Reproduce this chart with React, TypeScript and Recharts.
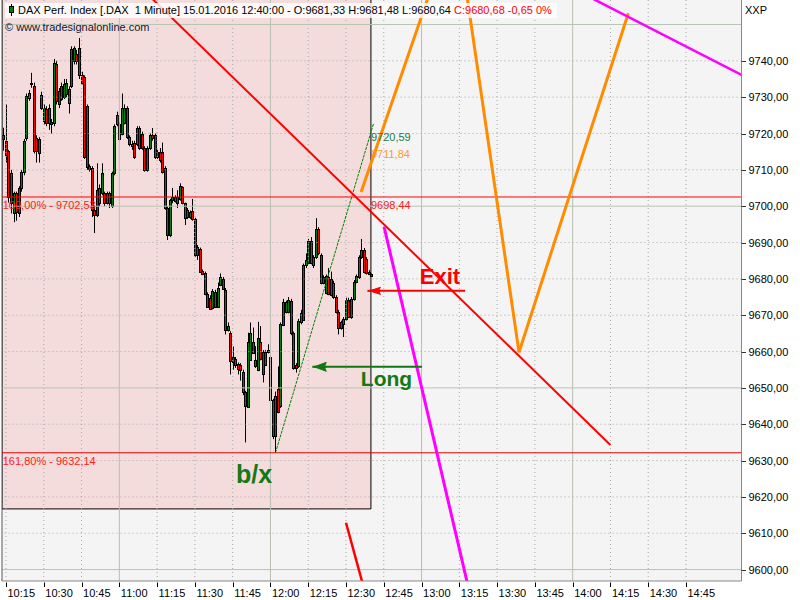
import React from 'react';
import {
  ComposedChart,
  Bar,
  Line,
  XAxis,
  YAxis,
  ReferenceArea,
  ReferenceLine,
  ReferenceDot,
} from 'recharts';

// ---------- data ----------
const firstBarMinute = 614; // 10:14, one bar per minute
const ohlc: [number, number, number, number][] = [
  [9718.6, 9721.6, 9715.3, 9719.7], [9718.0, 9728.0, 9712.0, 9714.0], [9715.3, 9715.5, 9701.0, 9702.5],
  [9709.0, 9710.0, 9698.0, 9700.8], [9698.0, 9704.0, 9695.6, 9703.5], [9703.5, 9704.0, 9696.0, 9698.5],
  [9698.0, 9705.5, 9697.0, 9705.0], [9705.0, 9710.0, 9704.0, 9709.3], [9709.3, 9718.5, 9708.5, 9718.0],
  [9718.9, 9731.0, 9718.0, 9730.4], [9729.9, 9732.0, 9729.0, 9731.2], [9733.7, 9736.7, 9732.6, 9734.0],
  [9733.0, 9734.0, 9714.5, 9715.3], [9718.9, 9719.5, 9712.0, 9715.3], [9714.5, 9719.0, 9712.0, 9718.5],
  [9730.7, 9731.5, 9726.5, 9727.1], [9723.5, 9728.0, 9722.5, 9727.0], [9726.8, 9727.5, 9722.0, 9723.0],
  [9723.0, 9728.0, 9721.0, 9727.0], [9723.3, 9724.0, 9720.0, 9722.5], [9723.0, 9740.5, 9722.0, 9739.5],
  [9739.2, 9740.0, 9728.0, 9729.0], [9728.2, 9732.5, 9727.0, 9731.8], [9729.5, 9734.0, 9729.0, 9733.0],
  [9730.0, 9735.0, 9729.5, 9733.5], [9731.0, 9735.0, 9730.0, 9734.0], [9732.3, 9733.0, 9725.5, 9728.5],
  [9733.0, 9744.0, 9732.5, 9743.3], [9740.0, 9744.0, 9739.0, 9743.6], [9742.0, 9743.0, 9739.0, 9740.0],
  [9743.6, 9746.3, 9735.0, 9736.0], [9736.0, 9737.0, 9733.5, 9734.0], [9735.5, 9736.0, 9713.0, 9713.5],
  [9727.7, 9728.0, 9710.0, 9710.7], [9711.0, 9711.5, 9709.5, 9710.2], [9710.5, 9711.0, 9697.0, 9698.9],
  [9698.9, 9700.0, 9692.6, 9697.5], [9697.5, 9711.8, 9697.0, 9704.5], [9705.0, 9706.0, 9700.0, 9701.0],
  [9703.5, 9711.8, 9703.0, 9709.0], [9703.5, 9704.0, 9700.0, 9701.0], [9701.0, 9704.0, 9700.5, 9703.5],
  [9703.5, 9704.0, 9699.5, 9701.0], [9700.0, 9709.5, 9699.5, 9709.0], [9709.0, 9722.5, 9708.5, 9722.2],
  [9725.0, 9726.0, 9722.0, 9722.7], [9718.6, 9723.2, 9718.0, 9722.7], [9720.0, 9731.0, 9719.5, 9727.0],
  [9723.0, 9728.0, 9722.5, 9727.0], [9727.0, 9727.5, 9718.5, 9719.0], [9719.0, 9719.5, 9716.5, 9717.2],
  [9717.2, 9718.0, 9715.5, 9716.5], [9717.5, 9718.0, 9713.0, 9713.4], [9717.0, 9722.0, 9716.5, 9721.6],
  [9721.6, 9722.0, 9715.5, 9716.0], [9720.0, 9720.5, 9715.5, 9716.0], [9716.0, 9716.5, 9709.5, 9710.0],
  [9710.0, 9716.5, 9709.5, 9716.0], [9716.0, 9720.0, 9715.5, 9719.6], [9719.6, 9721.5, 9718.0, 9718.7],
  [9719.5, 9720.0, 9713.0, 9713.5], [9713.5, 9715.5, 9713.0, 9714.8], [9714.8, 9716.0, 9712.0, 9712.8],
  [9714.8, 9717.5, 9709.0, 9709.5], [9710.4, 9711.0, 9699.0, 9699.5], [9699.5, 9700.0, 9690.7, 9692.0],
  [9692.0, 9702.0, 9691.5, 9701.6], [9701.6, 9705.0, 9700.8, 9702.5], [9702.5, 9703.0, 9701.0, 9701.5],
  [9702.5, 9704.4, 9699.5, 9701.0], [9702.0, 9706.3, 9701.5, 9705.5], [9705.2, 9705.5, 9700.5, 9701.0],
  [9700.8, 9701.0, 9694.8, 9696.7], [9699.0, 9699.5, 9696.5, 9697.0], [9697.0, 9698.8, 9696.5, 9698.4],
  [9698.6, 9702.0, 9696.0, 9696.4], [9696.4, 9696.8, 9686.0, 9686.6], [9686.6, 9689.3, 9685.2, 9688.8],
  [9688.2, 9688.6, 9681.6, 9682.0], [9682.2, 9682.6, 9681.0, 9681.4], [9681.6, 9682.0, 9675.5, 9675.9],
  [9675.9, 9676.3, 9672.0, 9672.3], [9674.8, 9675.5, 9671.5, 9671.8], [9672.0, 9677.2, 9671.6, 9676.7],
  [9676.4, 9677.0, 9672.0, 9672.3], [9672.3, 9679.0, 9672.0, 9677.5], [9678.4, 9681.5, 9678.0, 9680.5],
  [9680.0, 9680.5, 9677.0, 9677.3], [9677.0, 9677.5, 9664.7, 9666.0], [9666.0, 9668.0, 9665.5, 9667.1],
  [9665.2, 9665.6, 9653.7, 9657.3], [9658.4, 9661.4, 9655.0, 9657.0], [9658.0, 9658.5, 9655.5, 9656.4],
  [9656.7, 9657.0, 9653.7, 9655.3], [9656.4, 9656.8, 9652.0, 9655.0], [9654.5, 9655.0, 9648.0, 9649.0],
  [9644.9, 9649.2, 9635.0, 9648.8], [9644.7, 9665.2, 9644.5, 9662.5], [9657.8, 9668.0, 9657.5, 9665.0],
  [9662.5, 9666.6, 9659.3, 9659.7], [9657.8, 9661.5, 9655.5, 9655.9], [9655.0, 9668.2, 9654.6, 9663.8],
  [9662.5, 9667.0, 9657.6, 9658.0], [9653.7, 9660.4, 9651.5, 9660.0], [9656.4, 9660.4, 9656.0, 9660.0],
  [9660.5, 9662.0, 9659.5, 9659.8], [9658.6, 9659.0, 9646.5, 9646.8], [9646.6, 9647.0, 9635.9, 9636.7],
  [9636.7, 9649.0, 9632.14, 9647.7], [9649.6, 9655.9, 9643.0, 9643.3], [9645.0, 9668.0, 9644.5, 9667.7],
  [9667.4, 9674.5, 9667.0, 9673.7], [9671.0, 9674.0, 9670.5, 9673.7], [9671.0, 9675.0, 9670.5, 9674.2],
  [9674.0, 9674.5, 9664.5, 9665.0], [9665.0, 9665.5, 9655.0, 9655.6], [9656.4, 9656.8, 9654.2, 9655.6],
  [9655.9, 9669.0, 9655.5, 9668.5], [9668.0, 9671.5, 9667.5, 9670.7], [9668.8, 9684.2, 9668.5, 9683.8],
  [9683.8, 9687.0, 9683.0, 9685.2], [9684.4, 9691.0, 9684.0, 9690.4], [9690.4, 9691.5, 9684.0, 9684.4],
  [9686.0, 9686.5, 9683.0, 9683.8], [9686.0, 9696.7, 9685.5, 9693.7], [9693.7, 9694.2, 9686.5, 9687.0],
  [9686.6, 9687.0, 9678.5, 9678.9], [9678.9, 9681.0, 9678.5, 9680.5], [9676.2, 9681.2, 9675.8, 9680.8],
  [9680.5, 9683.0, 9675.5, 9675.9], [9680.0, 9682.0, 9675.2, 9675.6], [9679.0, 9679.5, 9674.5, 9675.0],
  [9675.0, 9675.5, 9670.5, 9671.0], [9671.0, 9671.5, 9664.7, 9666.6], [9668.0, 9668.5, 9666.0, 9666.6],
  [9667.7, 9669.5, 9664.0, 9669.0], [9669.0, 9674.8, 9668.5, 9674.2], [9674.2, 9674.8, 9669.2, 9669.6],
  [9669.6, 9675.0, 9669.0, 9674.5], [9674.5, 9679.7, 9674.0, 9679.2], [9679.2, 9681.2, 9678.8, 9680.8],
  [9680.5, 9686.5, 9680.0, 9686.0], [9686.0, 9691.0, 9685.5, 9688.0], [9688.0, 9688.5, 9681.5, 9681.9],
  [9685.5, 9686.0, 9681.2, 9681.6], [9682.0, 9682.4, 9681.0, 9681.3], [9681.33, 9681.48, 9680.64, 9680.68],
];

const xTickValues = [615, 630, 645, 660, 675, 690, 705, 720, 735, 750, 765, 780, 795, 810, 825, 840, 855, 870, 885];
const xTickLabels = ['10:15', '10:30', '10:45', '11:00', '11:15', '11:30', '11:45', '12:00', '12:15', '12:30', '12:45', '13:00', '13:15', '13:30', '13:45', '14:00', '14:15', '14:30', '14:45'];
const xSolidValues = [660, 720, 780, 840];
const yTickValues = [9600, 9610, 9620, 9630, 9640, 9650, 9660, 9670, 9680, 9690, 9700, 9710, 9720, 9730, 9740];
const yGridValues = [9600, 9610, 9620, 9630, 9640, 9650, 9660, 9670, 9680, 9690, 9700, 9710, 9720, 9730, 9740, 9750];
const ySolidValues = [9600, 9650, 9700, 9750];

const fib100 = 9702.53;
const fib161 = 9632.14;
const boxRight = 759.9;
const boxBottom = 9616.7;

const redTrend = [{ t: 672, p: 9757.8 }, { t: 855, p: 9634.3 }];
const redShort = [{ t: 750, p: 9612.9 }, { t: 757.5, p: 9593.9 }];
const greenTrend = [{ t: 722, p: 9632.14 }, { t: 761, p: 9722.9 }];
const orangeZig = [{ t: 756, p: 9703.9 }, { t: 793.5, p: 9779.4 }, { t: 818.7, p: 9659.8 }, { t: 862.1, p: 9753.1 }];
const magentaTop = [{ t: 846, p: 9757.8 }, { t: 910, p: 9735.1 }];
const magentaLow = [{ t: 765.1, p: 9694.4 }, { t: 800, p: 9590.9 }];
const exitArrow = [{ t: 759.3, p: 9676.7 }, { t: 797.3, p: 9676.7 }];
const longArrow = [{ t: 737.4, p: 9655.8 }, { t: 780.2, p: 9655.8 }];

const X_MIN = 613.41;
const X_MAX = 907.04;
const Y_MIN = 9596.86;
const Y_MAX = 9756.74;

const candleData = ohlc.map(([o, h, l, c], i) => ({ t: firstBarMinute + i, o, h, l, c }));

const FONT = '"Liberation Sans", Arial, sans-serif';

// ---------- shapes ----------
const CandleShape = (props: any) => {
  const { x, y, width, height, payload } = props;
  if (!payload || x == null) return null;
  const { o, h, l, c } = payload;
  const top = Math.min(y, y + height);
  const bottom = Math.max(y, y + height);
  const span = h - l || 1;
  const py = (v: number) => top + ((h - v) / span) * (bottom - top);
  const cx = Math.round(x + width / 2);
  const bTop = Math.round(py(Math.max(o, c)));
  const bBot = Math.round(py(Math.min(o, c)));
  const bh = Math.max(bBot - bTop, 1);
  const up = c >= o;
  return (
    <g>
      <line x1={cx + 0.5} x2={cx + 0.5} y1={py(h)} y2={py(l)} stroke="#000" strokeWidth={1} />
      <rect x={cx - 0.5} y={bTop + 0.5} width={2} height={bh} fill={up ? '#008000' : '#ff0000'} stroke="#000" strokeWidth={1} />
    </g>
  );
};

const XTick = (props: any) => {
  const { x, y, payload } = props;
  const idx = xTickValues.indexOf(payload.value);
  return (
    <g>
      <line x1={Math.round(x) + 0.5} x2={Math.round(x) + 0.5} y1={y + 1.5} y2={y + 6} stroke="#000" />
      <text x={x + 1.5} y={y + 16} fontSize={11} fontFamily={FONT} fill="#000" textAnchor="start">
        {xTickLabels[idx]}
      </text>
    </g>
  );
};

const YTick = (props: any) => {
  const { x, y, payload } = props;
  return (
    <g>
      <line x1={x} x2={x + 4.5} y1={Math.round(y) + 0.5} y2={Math.round(y) + 0.5} stroke="#333" />
      <text x={x + 7} y={y + 4} fontSize={11} fontFamily={FONT} fill="#000" textAnchor="start">
        {payload.value.toFixed(2).replace('.', ',')}
      </text>
    </g>
  );
};

const textShape = (txt: string, color: string, size: number, bold: boolean, anchor: string, dy: number) => (p: any) => (
  <text x={p.cx} y={p.cy + dy} fill={color} fontSize={size} fontWeight={bold ? 700 : 400} fontFamily={FONT} textAnchor={anchor as any}>
    {txt}
  </text>
);

const arrowHead = (color: string, len: number, half: number) => (p: any) => (
  <g>
    <polygon points={`${p.cx},${p.cy} ${p.cx + len},${p.cy - half} ${p.cx + len - 2},${p.cy} ${p.cx + len},${p.cy + half}`} fill={color} stroke={color} strokeWidth={1} />
    <line x1={p.cx - 2} x2={p.cx + len} y1={p.cy} y2={p.cy} stroke={color} strokeWidth={2} />
  </g>
);

export default function App() {
  return (
    <div style={{ position: 'absolute', left: 0, top: 0, width: 800, height: 600, background: '#fff', fontFamily: FONT }}>
      <ComposedChart
        width={800}
        height={600}
        data={candleData}
        margin={{ top: 0, right: 0, bottom: 0, left: 2 }}
      >
        <XAxis
          dataKey="t"
          type="number"
          domain={[X_MIN, X_MAX]}
          allowDataOverflow
          ticks={xTickValues}
          interval={0}
          height={19}
          tickSize={0}
          tickMargin={0}
          tickLine={false}
          tick={<XTick />}
          axisLine={{ stroke: '#888' }}
        />
        <YAxis
          orientation="right"
          type="number"
          domain={[Y_MIN, Y_MAX]}
          allowDataOverflow
          ticks={yTickValues}
          interval={0}
          width={58.5}
          tickSize={0}
          tickMargin={0}
          tickLine={false}
          tick={<YTick />}
          axisLine={{ stroke: '#888' }}
        />
        <ReferenceArea x1={X_MIN} x2={X_MAX} y1={Y_MIN} y2={Y_MAX} fill="#f4f4f4" fillOpacity={1} stroke="none" ifOverflow="hidden" />
        <ReferenceArea x1={X_MIN} x2={boxRight} y1={boxBottom} y2={Y_MAX + 5} fill="#f5dcdc" fillOpacity={1} stroke="#000" strokeWidth={1} ifOverflow="hidden" />
        {xTickValues.map((v) => (
          <ReferenceLine
            key={'gx' + v}
            x={v}
            stroke={xSolidValues.includes(v) ? '#b8bfb2' : '#a8a8a8'}
            strokeDasharray={xSolidValues.includes(v) ? undefined : '1 3'}
          />
        ))}
        {yGridValues.map((v) => (
          <ReferenceLine
            key={'gy' + v}
            y={v}
            stroke={ySolidValues.includes(v) ? '#b6c6b2' : '#a8a8a8'}
            strokeDasharray={ySolidValues.includes(v) ? undefined : '1 3'}
          />
        ))}
        <ReferenceLine x={X_MIN} stroke="#555" />
        <ReferenceLine y={fib100} stroke="#ff0000" strokeWidth={1} />
        <ReferenceLine y={fib161} stroke="#e00000" strokeWidth={1} />

        <Bar dataKey={(d: any) => [d.l, d.h]} barSize={2} shape={<CandleShape />} isAnimationActive={false} />

        <Line data={greenTrend} dataKey="p" type="linear" stroke="#008000" strokeWidth={1} strokeDasharray="3 1" dot={false} activeDot={false} isAnimationActive={false} />
        <Line data={redTrend} dataKey="p" type="linear" stroke="#ff0000" strokeWidth={2} dot={false} activeDot={false} isAnimationActive={false} />
        <Line data={redShort} dataKey="p" type="linear" stroke="#ff0000" strokeWidth={2.5} dot={false} activeDot={false} isAnimationActive={false} />
        <Line data={orangeZig} dataKey="p" type="linear" stroke="#ff8c00" strokeWidth={3} dot={false} activeDot={false} isAnimationActive={false} />
        <Line data={magentaTop} dataKey="p" type="linear" stroke="#ff00ff" strokeWidth={2.5} dot={false} activeDot={false} isAnimationActive={false} />
        <Line data={magentaLow} dataKey="p" type="linear" stroke="#ff00ff" strokeWidth={3} dot={false} activeDot={false} isAnimationActive={false} />
        <Line data={exitArrow} dataKey="p" type="linear" stroke="#ff0000" strokeWidth={2} dot={false} activeDot={false} isAnimationActive={false} />
        <Line data={longArrow} dataKey="p" type="linear" stroke="#107810" strokeWidth={2} dot={false} activeDot={false} isAnimationActive={false} />

        <ReferenceDot x={exitArrow[0].t} y={exitArrow[0].p} r={0} shape={arrowHead('#ff0000', 11, 3.5)} />
        <ReferenceDot x={longArrow[0].t} y={longArrow[0].p} r={0} shape={arrowHead('#107810', 12, 4.5)} />

        <ReferenceDot x={X_MIN + 0.3} y={fib100} r={0} shape={textShape('100,00% - 9702,53', '#ff1a1a', 11, false, 'start', 12)} />
        <ReferenceDot x={X_MIN + 0.3} y={fib161} r={0} shape={textShape('161,80% - 9632,14', '#ff1a1a', 11, false, 'start', 12)} />
        <ReferenceDot x={boxRight} y={9720.59} r={0} shape={textShape('9720,59', '#1e7a46', 11, false, 'start', 9.5)} />
        <ReferenceDot x={boxRight} y={9711.84} r={0} shape={textShape('9711,84', '#ff9a30', 11, false, 'start', -5)} />
        <ReferenceDot x={boxRight} y={9698.44} r={0} shape={textShape('9698,44', '#ff2020', 11, false, 'start', -2.5)} />
        <ReferenceDot x={787.3} y={9678.7} r={0} shape={textShape('Exit', '#ff0000', 22, true, 'middle', 0)} />
        <ReferenceDot x={755.9} y={9650.4} r={0} shape={textShape('Long', '#147814', 21, true, 'start', 0)} />
        <ReferenceDot x={713.5} y={9623.8} r={0} shape={textShape('b/x', '#147814', 25, true, 'middle', 0)} />
      </ComposedChart>

      <div
        style={{
          position: 'absolute', left: 5, top: 3, width: 552, height: 15,
          background: 'rgba(255,255,255,0.82)', fontSize: 11, lineHeight: '15px',
          whiteSpace: 'pre', color: '#000', boxSizing: 'border-box',
        }}
      >
        <span style={{ position: 'absolute', left: 6, top: 1, width: 1, height: 12, background: '#000' }} />
        <span style={{ position: 'absolute', left: 4, top: 3, width: 5, height: 7, background: '#008000', border: '1px solid #000', boxSizing: 'border-box' }} />
        <span style={{ position: 'absolute', left: 13, top: 0 }}>
          {'DAX Perf. Index [.DAX  1 Minute] 15.01.2016 12:40:00 - O:9681,33 H:9681,48 L:9680,64 '}
          <span style={{ color: '#ff0000' }}>{'C:9680,68 -0,65 0%'}</span>
        </span>
      </div>
      <div style={{ position: 'absolute', left: 5, top: 20, fontSize: 11, lineHeight: '14px', color: '#101830', whiteSpace: 'pre' }}>
        {'© www.tradesignalonline.com'}
      </div>
      <div style={{ position: 'absolute', left: 745, top: 4, fontSize: 11, lineHeight: '13px', color: '#000' }}>XXP</div>
    </div>
  );
}
